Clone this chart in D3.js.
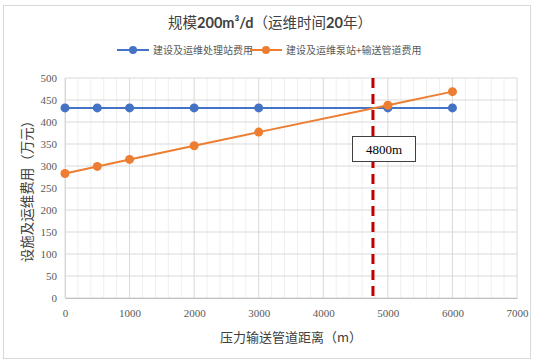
<!DOCTYPE html>
<html><head><meta charset="utf-8">
<script src="https://cdn.jsdelivr.net/npm/d3@7/dist/d3.min.js"></script>
<style>body{margin:0;background:#fff}</style>
</head><body>
<svg id="c" width="538" height="364"></svg>
<script>
const distances = [0, 500, 1000, 2000, 3000, 5000, 6000];
const plantCost = [432, 432, 432, 432, 432, 432, 432];
const pumpPipeCost = [283, 299, 315, 346, 377, 438, 469];
const seriesNames = ["建设及运维处理站费用", "建设及运维泵站+输送管道费用"];
const seriesColors = ["#4472C4", "#ED7D31"];
const xTicks = [0, 1000, 2000, 3000, 4000, 5000, 6000, 7000];
const yTicks = [0, 50, 100, 150, 200, 250, 300, 350, 400, 450, 500];
const breakEven = 4800;
const breakEvenLabel = "4800m";
const titleParts = [["规模", false], ["200m³/d", true], ["（运维时间", false], ["20", true], ["年）", false]];
const xTitle = "压力输送管道距离（m）";
const yTitle = "设施及运维费用（万元）";

const svg = d3.select("#c");
const W = 538, H = 364;
const m = {l: 65, r: 21, t: 78, b: 66};
const x = d3.scaleLinear().domain([0, 7000]).range([m.l, W - m.r]);
const y = d3.scaleLinear().domain([0, 500]).range([H - m.b, m.t]);

svg.append("rect").attr("x", 3.5).attr("y", 5.5).attr("width", 527).attr("height", 353)
  .attr("fill", "#fff").attr("stroke", "#d9d9d9");

const g = svg.append("g");
g.selectAll(".mv").data(d3.range(0, 7001, 200)).join("line")
  .attr("x1", d => x(d)).attr("x2", d => x(d)).attr("y1", y(0)).attr("y2", y(500))
  .attr("stroke", d => d % 1000 === 0 ? "#d9d9d9" : "#efefef").attr("stroke-width", 1);
g.selectAll(".hg").data(yTicks).join("line")
  .attr("x1", x(0)).attr("x2", x(7000)).attr("y1", d => y(d)).attr("y2", d => y(d))
  .attr("stroke", "#d9d9d9").attr("stroke-width", 1);

const xa = svg.append("g").attr("transform", `translate(0,${y(0)})`)
  .call(d3.axisBottom(x).tickValues(xTicks).tickFormat(d3.format("d")).tickSize(0).tickPadding(11));
xa.select(".domain").attr("stroke", "#bfbfbf");
xa.selectAll("text").attr("font-family", "Liberation Serif").attr("font-size", 11).attr("fill", "#595959");
const ya = svg.append("g").attr("transform", `translate(${x(0)},0)`)
  .call(d3.axisLeft(y).tickValues(yTicks).tickFormat(d3.format("d")).tickSize(0).tickPadding(8));
ya.select(".domain").attr("stroke", "#d9d9d9");
ya.selectAll("text").attr("font-family", "Liberation Serif").attr("font-size", 11).attr("fill", "#595959");

const tt = svg.append("text").attr("x", 270).attr("y", 28).attr("text-anchor", "middle")
  .attr("font-family", "Noto Sans CJK SC").attr("font-size", 14.5).attr("fill", "#404040");
titleParts.forEach(([s, b]) => tt.append("tspan").attr("font-weight", b ? "bold" : "normal")
  .attr("font-family", b ? "Lato, Noto Sans CJK SC" : "Noto Sans CJK SC").text(s));

svg.append("text").attr("x", (x(0) + x(7000)) / 2).attr("y", 342).attr("text-anchor", "middle")
  .attr("font-family", "Noto Sans CJK SC").attr("font-size", 13).attr("fill", "#404040").text(xTitle);
svg.append("text").attr("transform", `translate(32,${(y(0) + y(500)) / 2}) rotate(-90)`).attr("text-anchor", "middle")
  .attr("font-family", "Noto Sans CJK SC").attr("font-size", 13.5).attr("fill", "#404040").text(yTitle);

const legX = [117, 250];
seriesNames.forEach((n, i) => {
  const lg = svg.append("g");
  lg.append("line").attr("x1", legX[i]).attr("x2", legX[i] + 32).attr("y1", 50).attr("y2", 50)
    .attr("stroke", seriesColors[i]).attr("stroke-width", 2);
  lg.append("circle").attr("cx", legX[i] + 16).attr("cy", 50).attr("r", 4).attr("fill", seriesColors[i]);
  lg.append("text").attr("x", legX[i] + 36).attr("y", 54).attr("font-family", "Noto Sans CJK SC")
    .attr("font-size", 10).attr("fill", "#595959").text(n);
});

[plantCost, pumpPipeCost].forEach((vals, i) => {
  const pts = distances.map((d, j) => [d, vals[j]]);
  svg.append("path").datum(pts).attr("fill", "none").attr("stroke", seriesColors[i]).attr("stroke-width", 2)
    .attr("d", d3.line().x(d => x(d[0])).y(d => y(d[1])));
  svg.append("g").selectAll("circle").data(pts).join("circle")
    .attr("cx", d => x(d[0])).attr("cy", d => y(d[1])).attr("r", 4.5).attr("fill", seriesColors[i]);
});

svg.append("line").attr("x1", x(breakEven) - 2).attr("x2", x(breakEven) - 2).attr("y1", y(500)).attr("y2", y(0))
  .attr("stroke", "#C00000").attr("stroke-width", 3).attr("stroke-dasharray", "10,6");
const bx = 352, by = 136;
svg.append("rect").attr("x", bx + 0.5).attr("y", by + 0.5).attr("width", 63).attr("height", 25)
  .attr("fill", "#fff").attr("stroke", "#404040");
svg.append("text").attr("x", bx + 32).attr("y", by + 17.5).attr("text-anchor", "middle")
  .attr("font-family", "Liberation Serif").attr("font-size", 13).attr("fill", "#000").text(breakEvenLabel);
</script>
</body></html>
